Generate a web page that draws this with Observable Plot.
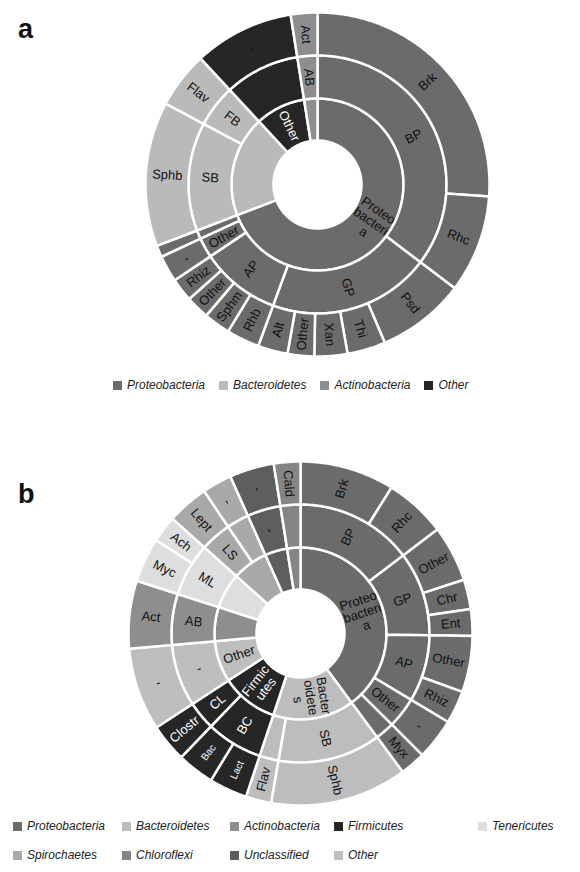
<!DOCTYPE html>
<html><head><meta charset="utf-8">
<script src="https://cdn.jsdelivr.net/npm/d3@7"></script>
<script src="https://cdn.jsdelivr.net/npm/@observablehq/plot@0.6"></script>
<style>
body{margin:0;background:#fff;font-family:"Liberation Sans",Arial,Helvetica,sans-serif;}
#root{position:relative;width:580px;height:872px;overflow:hidden;background:#fff;}
.panel{position:absolute;left:0;}
.tag{position:absolute;left:18px;font-weight:bold;font-size:27px;color:#111;line-height:1;}
.legend{position:absolute;font-style:italic;font-size:12px;color:#222;white-space:nowrap;}
.item{display:inline-flex;align-items:center;}
.sw{display:inline-block;width:9px;height:9px;margin-right:5px;}
</style></head><body><div id="root"></div>
<script>
// ---------- Chart a data ----------
const phylaA = ["Proteobacteria","Bacteroidetes","Actinobacteria","Other"];
const colorsA = ["#6b6b6b","#bababa","#8e8e8e","#262626"];
const leafPhylumA = ["Proteobacteria","Proteobacteria","Proteobacteria","Proteobacteria","Proteobacteria","Proteobacteria","Proteobacteria","Proteobacteria","Proteobacteria","Proteobacteria","Proteobacteria","Proteobacteria","Proteobacteria","Bacteroidetes","Bacteroidetes","Other","Actinobacteria"];
const leafClassA = ["BP","BP","GP","GP","GP","GP","GP","AP","AP","AP","AP","Other","","SB","FB","-","AB"];
const leafGenusA = ["Brk","Rhc","Psd","Thi","Xan","Other","Alt","Rhb","Sphm","Other","Rhiz","-","","Sphb","Flav","-","Act"];
const leafValuesA = [26.1,9.2,8.3,3.6,3.1,2.5,2.8,3.1,2.5,2.2,2.2,2.5,1.1,13.6,5.3,9.4,2.5];
const phylumLabelsA = {"Proteobacteria":"Proteo\nbacteri\na","Other":"Other"};

// ---------- Chart b data ----------
const phylaB = ["Proteobacteria","Bacteroidetes","Actinobacteria","Firmicutes","Tenericutes","Spirochaetes","Chloroflexi","Unclassified","Other"];
const colorsB = ["#6b6b6b","#bdbdbd","#8e8e8e","#262626","#dedede","#a9a9a9","#858585","#5e5e5e","#bebebe"];
const leafPhylumB = ["Proteobacteria","Proteobacteria","Proteobacteria","Proteobacteria","Proteobacteria","Proteobacteria","Proteobacteria","Proteobacteria","Proteobacteria","Bacteroidetes","Bacteroidetes","Firmicutes","Firmicutes","Firmicutes","Other","Actinobacteria","Tenericutes","Tenericutes","Spirochaetes","Spirochaetes","Unclassified","Chloroflexi"];
const leafClassB = ["BP","BP","GP","GP","GP","AP","AP","Other","","SB","","BC","BC","CL","-","AB","ML","ML","LS","","-",""];
const leafGenusB = ["Brk","Rhc","Other","Chr","Ent","Other","Rhiz","-","Myx","Sphb","Flav","Lact","Bac","Clostr","-","Act","Myc","Ach","Lept","-","-","Cald"];
const leafValuesB = [8.9,5.8,5.3,2.8,2.5,5.3,3.1,3.9,2.4,12.9,2.4,3.6,3.5,3.6,7.8,6.4,4.2,2.5,3.9,2.8,4.2,2.5];
const phylumLabelsB = {"Proteobacteria":"Proteo\nbacteri\na","Bacteroidetes":"Bacter\noidete\ns","Firmicutes":"Firmic\nutes","Other":"Other"};

const FONT = "Liberation Sans, Arial, Helvetica, sans-serif";

function sunburst({phylum, cls, genus, values, phyla, colors, phylumLabels, cx, cy, height, smallLabels = []}) {
  const R = 172;
  const radii = [[44, 86], [86, 129], [129, R]];
  const total = d3.sum(values);
  const cum = Array.from(d3.cumsum(values));
  const leaves = values.map((v, i) => ({i, a0: (cum[i] - v) / total * 360, a1: cum[i] / total * 360}));
  const segs = [];
  const group = (depth, key, label) => {
    let cur = null;
    leaves.forEach(l => {
      const k = key(l.i);
      if (cur && cur.k === k) cur.a1 = l.a1;
      else { cur = {k, depth, a0: l.a0, a1: l.a1, phylum: phylum[l.i], label: label(l.i)}; segs.push(cur); }
    });
  };
  group(0, i => phylum[i], i => phylumLabels[phylum[i]] || "");
  group(1, i => phylum[i] + "|" + cls[i], i => cls[i]);
  group(2, i => i, i => genus[i]);

  const rad = a => a * Math.PI / 180;
  const pts = segs.flatMap((s, j) => {
    const [r0, r1] = radii[s.depth];
    const n = Math.max(2, Math.ceil((s.a1 - s.a0) / 0.5));
    const out = [];
    for (let k = 0; k <= n; k++) { const a = rad(s.a0 + (s.a1 - s.a0) * k / n); out.push({id: j, phylum: s.phylum, x: r1 * Math.sin(a), y: r1 * Math.cos(a)}); }
    for (let k = n; k >= 0; k--) { const a = rad(s.a0 + (s.a1 - s.a0) * k / n); out.push({id: j, phylum: s.phylum, x: r0 * Math.sin(a), y: r0 * Math.cos(a)}); }
    return out;
  });
  const colorOf = p => colors[phyla.indexOf(p)];
  const isDark = p => d3.hsl(colorOf(p)).l < 0.3;
  const labels = segs.filter(s => s.label).map(s => {
    const [r0, r1] = radii[s.depth];
    const a = (s.a0 + s.a1) / 2, r = (r0 + r1) / 2;
    return {x: r * Math.sin(rad(a)), y: r * Math.cos(rad(a)), text: s.label,
      rotate: a < 180 ? a - 90 : a + 90,
      light: isDark(s.phylum) && s.label !== "-",
      size: (s.depth === 2 && smallLabels.includes(s.label)) ? 10 : 13};
  });
  return Plot.plot({
    width: 580, height, margin: 0,
    style: {background: "transparent", fontFamily: FONT},
    x: {axis: null, domain: [-R, R], range: [cx - R, cx + R]},
    y: {axis: null, domain: [-R, R], range: [cy + R, cy - R]},
    color: {domain: phyla, range: colors},
    marks: [
      Plot.line(pts, {x: "x", y: "y", z: "id", fill: "phylum", stroke: "white", strokeWidth: 2.5, curve: "linear-closed"}),
      Plot.text(labels.filter(d => !d.light), {x: "x", y: "y", text: "text", rotate: "rotate", fontSize: "size", fill: "#111", fontFamily: FONT}),
      Plot.text(labels.filter(d => d.light), {x: "x", y: "y", text: "text", rotate: "rotate", fontSize: "size", fill: "white", fontFamily: FONT})
    ]
  });
}

function legend(phyla, colors) {
  const div = document.createElement("div");
  div.className = "legend";
  phyla.forEach(p => {
    const it = document.createElement("span");
    it.className = "item";
    const sw = document.createElement("span");
    sw.className = "sw"; sw.style.background = colors[phyla.indexOf(p)];
    it.appendChild(sw);
    it.appendChild(document.createTextNode(p));
    div.appendChild(it);
  });
  return div;
}

const root = document.getElementById("root");

// panel a
const pa = sunburst({phylum: leafPhylumA, cls: leafClassA, genus: leafGenusA, values: leafValuesA,
  phyla: phylaA, colors: colorsA, phylumLabels: phylumLabelsA, cx: 317, cy: 184, height: 370});
pa.classList.add("panel"); pa.style.top = "0px";
root.appendChild(pa);
const ta = document.createElement("div"); ta.className = "tag"; ta.textContent = "a"; ta.style.top = "16px"; root.appendChild(ta);
const la = legend(phylaA, colorsA);
la.style.left = "113px"; la.style.top = "378px"; la.style.display = "flex"; la.style.gap = "14px";
root.appendChild(la);

// panel b
const pb = sunburst({phylum: leafPhylumB, cls: leafClassB, genus: leafGenusB, values: leafValuesB,
  phyla: phylaB, colors: colorsB, phylumLabels: phylumLabelsB, cx: 300, cy: 183, height: 370, smallLabels: ["Bac", "Lact"]});
pb.classList.add("panel"); pb.style.top = "450px";
root.appendChild(pb);
const tb = document.createElement("div"); tb.className = "tag"; tb.textContent = "b"; tb.style.top = "481px"; root.appendChild(tb);
const lb = legend(phylaB, colorsB);
lb.style.left = "13px"; lb.style.top = "819px";
lb.style.display = "grid"; lb.style.gridTemplateColumns = "109px 108px 104px 144px auto"; lb.style.rowGap = "15px";
root.appendChild(lb);
</script>
</body></html>
